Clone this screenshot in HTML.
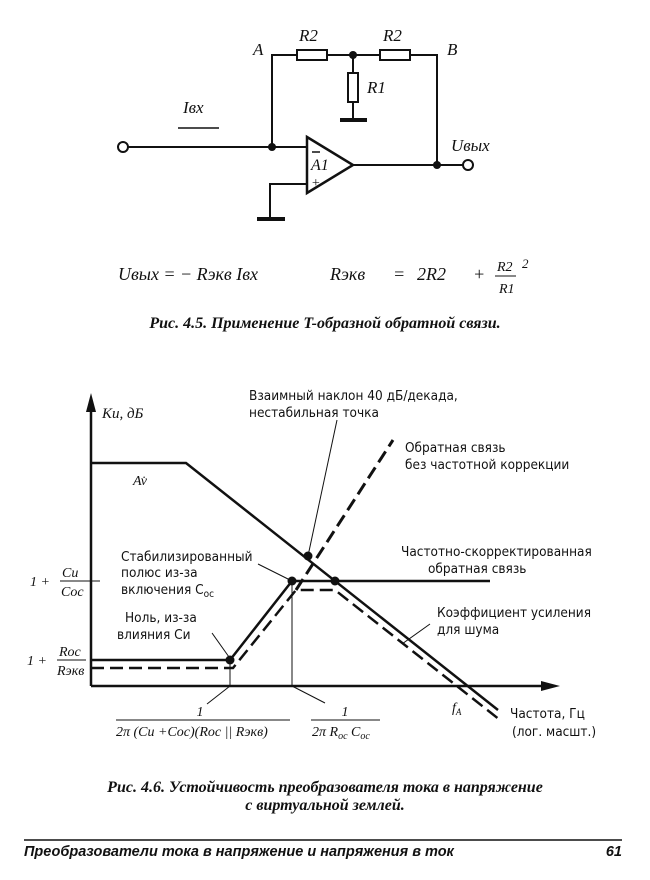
<!DOCTYPE html>
<html><head><meta charset="utf-8"><style>
html,body{margin:0;padding:0;background:#fff;}
svg{display:block;}
.s{font-family:"Liberation Serif","DejaVu Serif",serif;font-style:italic;fill:#111;}
.m{font-family:"DejaVu Sans Condensed","Liberation Sans",sans-serif;fill:#111;}
</style></head><body>
<svg width="650" height="880" viewBox="0 0 650 880" xmlns="http://www.w3.org/2000/svg">
<g stroke="#111" stroke-width="2" fill="none">
<polyline points="272,147 272,55 297,55"/>
<line x1="327" y1="55" x2="380" y2="55"/>
<polyline points="410,55 437,55 437,165"/>
<rect x="297" y="50" width="30" height="10" fill="#fff"/>
<rect x="380" y="50" width="30" height="10" fill="#fff"/>
<line x1="353" y1="55" x2="353" y2="73"/>
<rect x="348" y="73" width="10" height="29" fill="#fff"/>
<line x1="353" y1="102" x2="353" y2="120"/>
<line x1="340" y1="120" x2="367" y2="120" stroke-width="4"/>
<line x1="128" y1="147" x2="307" y2="147"/>
<polygon points="307,137 353,165 307,193" stroke-width="2.5"/>
<line x1="353" y1="165" x2="463" y2="165"/>
<polyline points="307,184 270,184 270,218"/>
<line x1="257" y1="219" x2="285" y2="219" stroke-width="4"/>
<line x1="178" y1="128" x2="219" y2="128" stroke-width="1.5"/>
<line x1="312" y1="152" x2="320" y2="152" stroke-width="1.5"/>
<circle cx="123" cy="147" r="5" fill="#fff"/>
<circle cx="468" cy="165" r="5" fill="#fff"/>
</g>
<g fill="#111"><circle cx="272" cy="147" r="4"/><circle cx="353" cy="55" r="4"/><circle cx="437" cy="165" r="4"/></g>
<g class="s" font-size="17">
<text x="253" y="55">A</text><text x="447" y="55">B</text>
<text x="299" y="41">R2</text><text x="383" y="41">R2</text>
<text x="367" y="93">R1</text><text x="183" y="113">Iвх</text>
<text x="451" y="151">Uвых</text>
<text x="311" y="170" font-size="16">A1</text>
<text x="311" y="187" font-size="14">+</text>
</g>
<g class="s" font-size="18">
<text x="118" y="280" textLength="140" lengthAdjust="spacing">Uвых = − Rэкв Iвх</text>
<text x="330" y="280">Rэкв</text>
<text x="393" y="280">=</text>
<text x="417" y="280">2R2</text>
<text x="473" y="280">+</text>
<text x="497" y="271" font-size="14">R2</text>
<line x1="495" y1="276" x2="516" y2="276" stroke="#111" stroke-width="1"/>
<text x="499" y="293" font-size="14">R1</text>
<text x="522" y="268" font-size="13">2</text>
</g>
<text x="325" y="328" class="s" font-weight="bold" font-size="16" text-anchor="middle">Рис. 4.5. Применение T-образной обратной связи.</text>

<g stroke="#111" fill="none">
<line x1="91" y1="686" x2="91" y2="405" stroke-width="2.5"/>
<line x1="91" y1="686" x2="548" y2="686" stroke-width="2.5"/>
<polyline points="91,463 186,463 498,710" stroke-width="2.5"/>
<polyline points="91,660 230,660 292,581 490,581" stroke-width="2.5"/>
<polyline points="91,668 233,668 296,590 335,590 500,720" stroke-width="2.5" stroke-dasharray="13,6"/>
<line x1="296" y1="590" x2="393" y2="440" stroke-width="3" stroke-dasharray="13,6"/>
<line x1="230" y1="660" x2="230" y2="686" stroke-width="1"/>
<line x1="292" y1="581" x2="292" y2="686" stroke-width="1"/>
<line x1="84" y1="581" x2="100" y2="581" stroke-width="1"/>
<g stroke-width="1">
<line x1="308" y1="556" x2="337" y2="420"/>
<line x1="258" y1="564" x2="290" y2="580"/>
<line x1="212" y1="633" x2="229" y2="657"/>
<line x1="430" y1="624" x2="402" y2="644"/>
<line x1="230" y1="686" x2="207" y2="704"/>
<line x1="292" y1="686" x2="325" y2="703"/>
</g>
</g>
<polygon points="91,393 86,412 96,412" fill="#111"/>
<polygon points="560,686 541,681 541,691" fill="#111"/>
<g fill="#111"><circle cx="308" cy="556" r="4.5"/><circle cx="292" cy="581" r="4.5"/><circle cx="335" cy="581" r="4.5"/><circle cx="230" cy="660" r="4.5"/></g>
<g class="m" font-size="13.5">
<text x="102" y="418" class="s" font-size="15">Ки, дБ</text>
<text x="133" y="485" class="s" font-size="14">Av̇</text>
<text x="249" y="400">Взаимный наклон 40 дБ/декада,</text>
<text x="249" y="417">нестабильная точка</text>
<text x="405" y="452">Обратная связь</text>
<text x="405" y="469">без частотной коррекции</text>
<text x="401" y="556">Частотно-скорректированная</text>
<text x="428" y="573">обратная связь</text>
<text x="121" y="561">Стабилизированный</text>
<text x="121" y="577">полюс из-за</text>
<text x="121" y="594">включения C<tspan font-size="10" dy="3">oc</tspan></text>
<text x="125" y="622">Ноль, из-за</text>
<text x="117" y="639">влияния Cи</text>
<text x="437" y="617">Коэффициент усиления</text>
<text x="437" y="634">для шума</text>
<text x="510" y="718">Частота, Гц</text>
<text x="512" y="736">(лог. масшт.)</text>
</g>
<g class="s" font-size="14">
<text x="30" y="586">1  +</text>
<text x="62" y="577">Cи</text><line x1="60" y1="581" x2="84" y2="581" stroke="#111"/><text x="61" y="596">Cос</text>
<text x="27" y="665">1  +</text>
<text x="59" y="656">Roc</text><line x1="57" y1="660" x2="86" y2="660" stroke="#111"/><text x="57" y="675">Rэкв</text>
<text x="200" y="716" text-anchor="middle">1</text>
<line x1="116" y1="720" x2="290" y2="720" stroke="#111"/>
<text x="116" y="736">2π (Cи +Cос)(Roc || Rэкв)</text>
<text x="345" y="716" text-anchor="middle">1</text>
<line x1="311" y1="720" x2="380" y2="720" stroke="#111"/>
<text x="312" y="736">2π R<tspan font-size="10" dy="3">oc</tspan><tspan dy="-3"> C</tspan><tspan font-size="10" dy="3">oc</tspan></text>
<text x="452" y="712">f<tspan font-size="9" dy="3">A</tspan></text>
</g>
<text x="325" y="792" class="s" font-weight="bold" font-size="16" text-anchor="middle">Рис. 4.6. Устойчивость преобразователя тока в напряжение</text>
<text x="325" y="810" class="s" font-weight="bold" font-size="16" text-anchor="middle">с виртуальной землей.</text>
<line x1="24" y1="840" x2="622" y2="840" stroke="#111" stroke-width="1.5"/>
<text x="24" y="856" font-family="Liberation Sans,sans-serif" font-style="italic" font-weight="bold" font-size="14.5" fill="#111">Преобразователи тока в напряжение и напряжения в ток</text>
<text x="622" y="856" font-family="Liberation Sans,sans-serif" font-style="italic" font-weight="bold" font-size="14.5" fill="#111" text-anchor="end">61</text>
</svg>
</body></html>
